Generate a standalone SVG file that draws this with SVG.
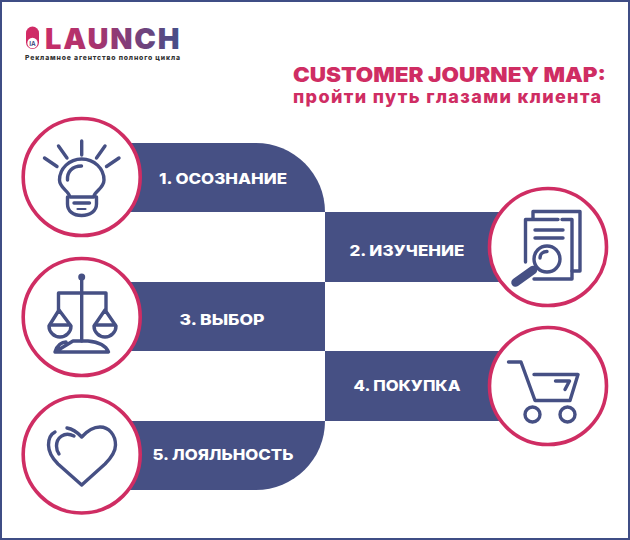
<svg xmlns="http://www.w3.org/2000/svg" width="630" height="540" viewBox="0 0 630 540">
<style>
.band{fill:#465084}
.ring{fill:#fff;stroke:#cf2d63;stroke-width:3.6}
.ic{fill:none;stroke:#465084;stroke-width:3.4;stroke-linecap:round;stroke-linejoin:round}
.lab{font-family:"Inter","Liberation Sans",sans-serif;font-weight:800;font-size:15px;fill:#fff;text-anchor:middle}
.ttl{font-family:"Inter","Liberation Sans",sans-serif;font-weight:900;fill:#cf2d63}
</style>
<defs>
<linearGradient id="lg" gradientUnits="userSpaceOnUse" x1="26" y1="0" x2="180" y2="0">
<stop offset="0" stop-color="#d42a65"/><stop offset="0.45" stop-color="#a8346f"/><stop offset="1" stop-color="#454f88"/>
</linearGradient>
</defs>
<rect width="630" height="540" fill="#fff"/>
<rect x="1" y="1" width="628" height="538" fill="none" stroke="#3f4d85" stroke-width="2"/>
<g id="logo">
<rect x="26" y="26.500" width="13" height="22.500" rx="6.500" fill="url(#lg)"/>
<circle cx="32.500" cy="43" r="5.200" fill="#fff"/>
<text x="32.500" y="45.500" font-family="Liberation Sans,sans-serif" font-size="6.500" font-weight="700" fill="#465084" text-anchor="middle">IA</text>
<text x="45" y="48.500" font-family="Inter,Liberation Sans,sans-serif" font-size="29" font-weight="900" fill="url(#lg)" textLength="134.500" lengthAdjust="spacing">LAUNCH</text>
<text x="25" y="60" font-family="Inter,Liberation Sans,sans-serif" font-size="6.800" font-weight="800" fill="#333" textLength="155">Рекламное агентство полного цикла</text>
</g>
<g id="title">
<text class="ttl" x="293" y="82" font-size="20" textLength="313" lengthAdjust="spacingAndGlyphs">CUSTOMER JOURNEY MAP:</text>
<text class="ttl" x="293" y="103" font-size="18" style="font-weight:800" textLength="308">пройти путь глазами клиента</text>
</g>
<g id="connectors">
<path class="band" d="M120 143H256A69 69 0 0 1 325 212H120Z"/>
<rect class="band" x="325" y="212" width="180" height="70"/>
<rect class="band" x="120" y="282" width="205" height="69"/>
<rect class="band" x="325" y="351" width="180" height="70"/>
<path class="band" d="M120 421H325A69 69 0 0 1 256 490H120Z"/>
</g>
<g id="node1">
<circle class="ring" cx="81.700" cy="177" r="58.500"/>
<path class="ic" d="M81.700 141V155M58.500 146L67 158M105 146L96.500 158M44.500 158L57 166.500M119 158L106.500 166.500"/>
<path class="ic" d="M70 197C69 191 59.500 188 59.500 180A22.200 21 0 0 1 104 180C104 188 95 191 93.500 197ZM67.500 197V204C67.500 211 73 215.500 81.700 215.500C90 215.500 96.500 211 96.500 204V197"/>
<path class="ic" d="M67.500 180C67 172 72 166 81.500 166M74 203H89.500" stroke-width="2.800"/>
<path d="M77.500 209H85.500" stroke="#465084" stroke-width="2.200" stroke-linecap="round"/>
<text class="lab" x="223" y="184" textLength="128" lengthAdjust="spacingAndGlyphs">1. ОСОЗНАНИЕ</text>
</g>
<g id="node2">
<circle class="ring" cx="548" cy="247" r="58.500"/>
<path class="ic" d="M533 218V211.500H580V271H572"/>
<path class="ic" d="M562 219.500H572V279H534M525.500 262V219.500H558"/>
<path class="ic" d="M535 230H563M535 238H563"/>
<circle class="ic" cx="547" cy="259" r="13"/>
<path class="ic" d="M540 258C540 254 543 251.500 547 251.500" stroke-width="2.200"/>
<path d="M533 270L515.500 282.500" stroke="#465084" stroke-width="8.500" stroke-linecap="round"/>
<text class="lab" x="407" y="256" textLength="115" lengthAdjust="spacingAndGlyphs">2. ИЗУЧЕНИЕ</text>
</g>
<g id="node3">
<circle class="ring" cx="81.700" cy="317" r="58.500"/>
<path class="ic" d="M81.700 277V341M58.500 310V293H106V310"/>
<circle cx="81.700" cy="277" r="3.500" fill="#465084"/>
<path class="ic" d="M59 310L49 326A11 11 0 0 0 71 326ZM105 310L94 326A11 11 0 0 0 116 326Z"/>
<path class="ic" d="M50 325H70M95 325H115" stroke-width="2.600"/>
<path class="ic" d="M55 352C57 345 62 342 66 342M73 341H88C99 342 106 346 108.500 352H55Z"/>
<text class="lab" x="222" y="325" textLength="85" lengthAdjust="spacingAndGlyphs">3. ВЫБОР</text>
</g>
<g id="node4">
<circle class="ring" cx="548" cy="386" r="58.500"/>
<path class="ic" d="M508.500 362H521L535 400.500H570L578 374.500H534"/>
<path class="ic" d="M555.500 381H569.500L565 389.500"/>
<circle class="ic" cx="532.500" cy="414.500" r="7.500"/>
<circle class="ic" cx="567.500" cy="414.500" r="7.500"/>
<text class="lab" x="407" y="391" textLength="107" lengthAdjust="spacingAndGlyphs">4. ПОКУПКА</text>
</g>
<g id="node5">
<circle class="ring" cx="81.700" cy="454.500" r="58.500"/>
<path class="ic" d="M67 428C73 429 78 433 81.700 437C88 430 94 427 100 427C109 427 115.500 435 115.500 445C115.500 452 111 458 105 464L81.700 485L58 464C52 458 48.500 452 48.500 445C48.500 438 51 434 55 432"/>
<path class="ic" d="M74 436C64 431 56.500 438 56.500 446C56.500 449 57.500 452 59 454"/>
<text class="lab" x="223" y="460" textLength="141" lengthAdjust="spacingAndGlyphs">5. ЛОЯЛЬНОСТЬ</text>
</g>
</svg>
